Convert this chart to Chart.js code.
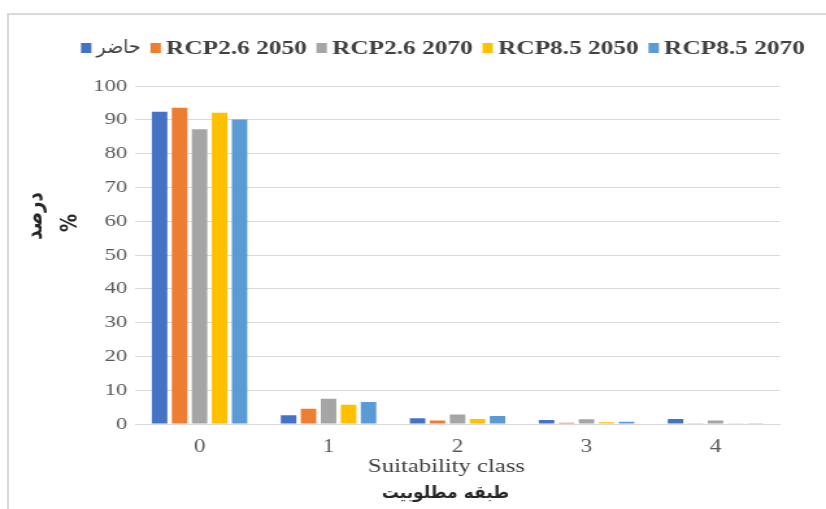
<!DOCTYPE html>
<html>
<head>
<meta charset="utf-8">
<script src="https://cdn.jsdelivr.net/npm/chart.js@4.4.1/dist/chart.umd.min.js"></script>
<style>
  html, body { margin: 0; padding: 0; background: #fff; overflow: hidden; width: 826px; height: 509px; }
  #frame { position: absolute; left: 7px; top: 13px; right: 0; bottom: 0;
           border-left: 2px solid #d9d9d9; border-top: 2px solid #d9d9d9; }
  /* the chart is laid out on a narrower canvas and widened to the page width */
  #stage { position: absolute; left: 0; top: 0; width: 636px; height: 509px;
           transform: scaleX(1.29874); transform-origin: 0 0; }
</style>
</head>
<body>
<div id="frame"></div>
<div id="stage"><canvas id="chart" width="636" height="509"></canvas></div>
<script>
// Share of area (%) in each suitability class, per scenario
const categories = ['0', '1', '2', '3', '4'];
const seriesNames = ['حاضر', 'RCP2.6 2050', 'RCP2.6 2070', 'RCP8.5 2050', 'RCP8.5 2070'];
const present     = [92.4, 2.6, 1.7, 1.2, 1.5];
const rcp26_2050  = [93.6, 4.5, 1.0, 0.4, 0.1];
const rcp26_2070  = [87.2, 7.5, 2.8, 1.4, 1.0];
const rcp85_2050  = [92.1, 5.7, 1.5, 0.5, 0.2];
const rcp85_2070  = [90.1, 6.5, 2.4, 0.7, 0.1];
const yTickValues = [0, 10, 20, 30, 40, 50, 60, 70, 80, 90, 100];
const xTitle = 'Suitability class';
const xTitleFa = 'طبقه مطلوبیت';
const yTitleLines = ['درصد', '%'];

const seriesValues = [present, rcp26_2050, rcp26_2070, rcp85_2050, rcp85_2070];
const seriesColors = ['#4472C4', '#ED7D31', '#A5A5A5', '#FFC000', '#5B9BD5'];

const SX = 826 / 636;   // horizontal widening of the stage
const SERIF = '"Liberation Serif", "DejaVu Sans", serif';
const SANS_FA = '"DejaVu Sans", sans-serif';
const isLatin = s => /^[\x00-\x7F]*$/.test(s);

// Legend and axis titles drawn on the chart canvas
const chartText = {
  id: 'chartText',
  afterDraw(chart) {
    const ctx = chart.ctx;
    ctx.save();

    // legend row
    const latinFont = 'bold 19.5px ' + SERIF;
    const faFont = '19px ' + SANS_FA;
    const boxW = 8, boxH = 10, gap = 4, spacing = 7.5;
    const items = chart.data.datasets.map(ds => {
      const latin = isLatin(ds.label);
      ctx.font = latin ? latinFont : faFont;
      const w = ctx.measureText(ds.label).width / (latin ? 1 : SX);
      return { label: ds.label, color: ds.backgroundColor, latin, w };
    });
    const total = items.reduce((s, it) => s + boxW + gap + it.w, 0) + spacing * (items.length - 1);
    let x = 341 - total / 2;
    const yMid = 48;
    ctx.textAlign = 'left';
    ctx.textBaseline = 'alphabetic';
    items.forEach(it => {
      ctx.fillStyle = it.color;
      ctx.fillRect(x, yMid - boxH / 2, boxW, boxH);
      x += boxW + gap;
      ctx.fillStyle = '#404040';
      if (it.latin) {
        ctx.font = latinFont;
        ctx.fillText(it.label, x, yMid + 6.4);
      } else {
        ctx.save();
        ctx.font = faFont;
        ctx.translate(x, yMid + 5);
        ctx.scale(1 / SX, 1);
        ctx.fillText(it.label, 0, 0);
        ctx.restore();
      }
      x += it.w + spacing;
    });

    // y axis title, two rotated lines
    ctx.font = 'bold 18px ' + SANS_FA;
    ctx.fillStyle = '#262626';
    ctx.textAlign = 'center';
    ctx.textBaseline = 'middle';
    [[27, 216, yTitleLines[0]], [54, 223, yTitleLines[1]]].forEach(([tx, ty, t]) => {
      ctx.save();
      ctx.translate(tx, ty);
      ctx.rotate(-Math.PI / 2);
      ctx.fillText(t, 0, 0);
      ctx.restore();
    });

    // x axis titles
    ctx.textBaseline = 'alphabetic';
    ctx.font = '19px ' + SERIF;
    ctx.fillStyle = '#404040';
    ctx.fillText(xTitle, 343.8, 472);
    ctx.save();
    ctx.font = 'bold 17px ' + SANS_FA;
    ctx.fillStyle = '#262626';
    ctx.translate(343, 498);
    ctx.scale(1 / SX, 1);
    ctx.fillText(xTitleFa, 0, 0);
    ctx.restore();

    ctx.restore();
  }
};

new Chart(document.getElementById('chart'), {
  type: 'bar',
  data: {
    labels: categories,
    datasets: seriesNames.map((name, i) => ({
      label: name,
      data: seriesValues[i],
      backgroundColor: seriesColors[i],
      borderWidth: 0
    }))
  },
  options: {
    responsive: false,
    animation: false,
    devicePixelRatio: 1,
    layout: { padding: { left: 0, right: 35.4, top: 86, bottom: 0 } },
    datasets: { bar: { categoryPercentage: 0.775, barPercentage: 0.775 } },
    plugins: { legend: { display: false }, tooltip: { enabled: false } },
    scales: {
      x: {
        grid: { display: false, drawTicks: false },
        border: { display: true, color: '#d9d9d9', width: 1 },
        ticks: { font: { family: SERIF, size: 18 }, color: '#595959', padding: 12 },
        afterFit(s) { s.height = 85; }
      },
      y: {
        min: 0, max: 100,
        afterBuildTicks(s) { s.ticks = yTickValues.map(v => ({ value: v })); },
        ticks: { font: { family: SERIF, size: 17.5 }, color: '#595959', padding: 6 },
        grid: { color: '#d9d9d9', lineWidth: 1, drawTicks: false },
        border: { display: false },
        afterFit(s) { s.width = 104; }
      }
    }
  },
  plugins: [chartText]
});
</script>
</body>
</html>
